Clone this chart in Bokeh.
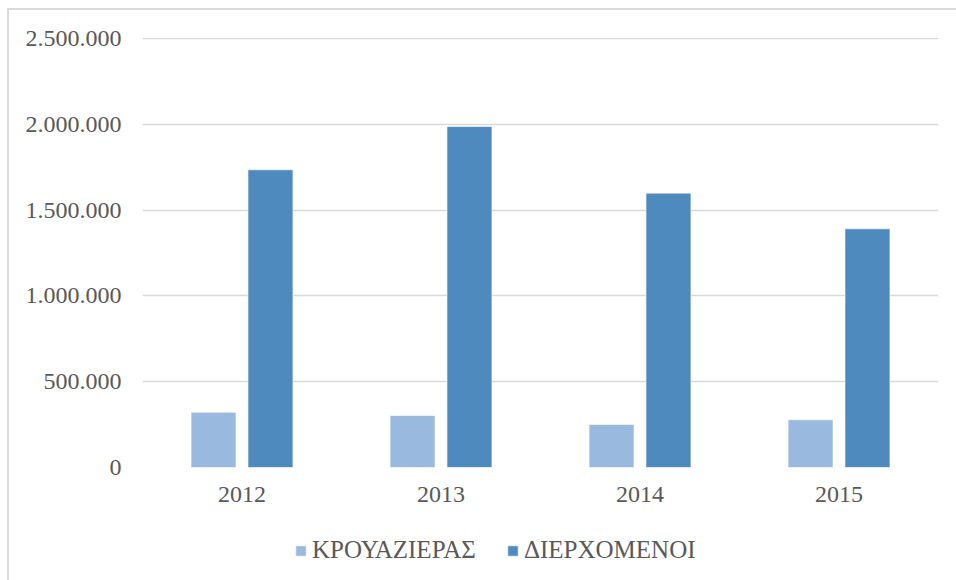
from bokeh.plotting import figure
from bokeh.layouts import column
from bokeh.models import FactorRange, Range1d, Legend, LegendItem, FixedTicker, ColumnDataSource
from bokeh.transform import dodge
from bokeh.embed import file_html
from bokeh.resources import INLINE

years = ["2012", "2013", "2014", "2015"]
cruise = [322000, 303000, 251000, 278000]
transit = [1735000, 1987000, 1599000, 1391000]
series_names = ["ΚΡΟΥΑΖΙΕΡΑΣ", "ΔΙΕΡΧΟΜΕΝΟΙ"]
y_ticks = [0, 500000, 1000000, 1500000, 2000000, 2500000]
y_tick_labels = ["0", "500.000", "1.000.000", "1.500.000", "2.000.000", "2.500.000"]

LIGHT = "#99b9df"
DARK = "#4f8abe"
GRID = "#d9d9d9"
TEXT = "#595959"
FONT = "Liberation Serif"

src = ColumnDataSource(data=dict(year=years, cruise=cruise, transit=transit))

p = figure(x_range=FactorRange(*years), y_range=Range1d(0, 2506000),
           width=947, height=510, output_backend="svg", toolbar_location=None,
           min_border_left=133, min_border_right=18, min_border_top=27,
           min_border_bottom=53)
p.outline_line_color = None

r1 = p.vbar(x=dodge("year", -0.143, range=p.x_range), top="cruise", width=0.226,
            source=src, fill_color=LIGHT, line_color="white", line_alpha=0.6, line_width=1)
r2 = p.vbar(x=dodge("year", 0.143, range=p.x_range), top="transit", width=0.226,
            source=src, fill_color=DARK, line_color="white", line_alpha=0.6, line_width=1)

p.xgrid.grid_line_color = None
p.ygrid.grid_line_color = GRID
p.ygrid.grid_line_width = 1.5
p.yaxis.ticker = FixedTicker(ticks=y_ticks)
p.yaxis.major_label_overrides = {t: l for t, l in zip(y_ticks, y_tick_labels)}

for ax in (p.xaxis, p.yaxis):
    ax.axis_line_color = None
    ax.major_tick_line_color = None
    ax.minor_tick_line_color = None
    ax.major_label_text_font = FONT
    ax.major_label_text_font_size = "24px"
    ax.major_label_text_color = TEXT
p.yaxis.major_label_standoff = 15
p.xaxis.major_label_standoff = 13

# legend strip below the chart (proxy renderers hold no visible data)
lg = figure(width=947, height=60, output_backend="svg", toolbar_location=None,
            min_border_left=0, min_border_right=0, min_border_top=0, min_border_bottom=0,
            x_range=Range1d(0, 1), y_range=Range1d(0, 1))
lg.outline_line_color = None
lg.axis.visible = False
lg.grid.visible = False
nan = float("nan")
d1 = lg.vbar(x=[nan], top=[nan], width=0.1, fill_color=LIGHT, line_color="white", line_alpha=0.6)
d2 = lg.vbar(x=[nan], top=[nan], width=0.1, fill_color=DARK, line_color="white", line_alpha=0.6)
legend = Legend(items=[LegendItem(label=series_names[0], renderers=[d1]),
                       LegendItem(label=series_names[1], renderers=[d2])],
                location=(152, 16), orientation="horizontal",
                glyph_width=13, glyph_height=13, label_standoff=5, spacing=30,
                padding=0, margin=0, border_line_color=None, background_fill_alpha=0,
                label_text_font=FONT, label_text_font_size="25px", label_text_color=TEXT)
lg.add_layout(legend, "center")

layout = column(p, lg, spacing=0)
layout.styles = {"margin-left": "7px", "margin-top": "8px",
                 "border-left": "2px solid #d9d9d9", "border-top": "2px solid #d9d9d9"}

open("out.html", "w").write(file_html(layout, INLINE))
